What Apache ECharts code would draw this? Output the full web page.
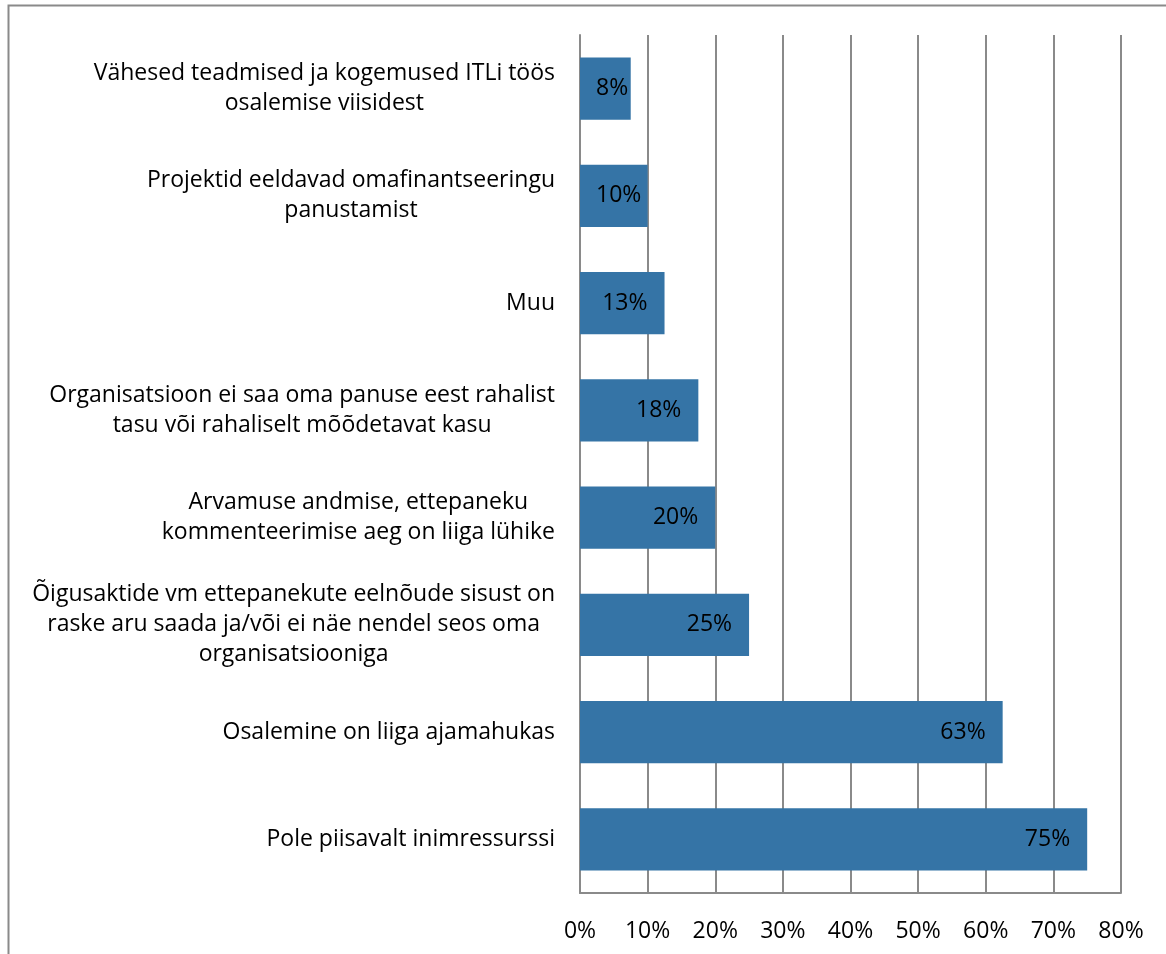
<!DOCTYPE html>
<html>
<head>
<meta charset="utf-8">
<script src="https://cdn.jsdelivr.net/npm/echarts@6/dist/echarts.min.js"></script>
<style>
html,body{margin:0;padding:0;background:#fff;}
#chart{width:1166px;height:954px;}
</style>
</head>
<body>
<div id="chart"></div>
<script>
// Categories, top to bottom
const categories = [
  "Vähesed teadmised ja kogemused ITLi töös\nosalemise viisidest",
  "Projektid eeldavad omafinantseeringu\npanustamist",
  "Muu",
  "Organisatsioon ei saa oma panuse eest rahalist\ntasu või rahaliselt mõõdetavat kasu",
  "Arvamuse andmise, ettepaneku\nkommenteerimise aeg on liiga lühike",
  "Õigusaktide vm ettepanekute eelnõude sisust on\nraske aru saada ja/või ei näe nendel seos oma\norganisatsiooniga",
  "Osalemine on liiga ajamahukas",
  "Pole piisavalt inimressurssi"
];
const values = [7.5, 10, 12.5, 17.5, 20, 25, 62.5, 75];
const xTicks = [0, 10, 20, 30, 40, 50, 60, 70, 80];

const FONT = '"Open Sans"';
const FS = 23;
const chart = echarts.init(document.getElementById('chart'), null, {renderer: 'canvas'});
chart.setOption({
  backgroundColor: '#ffffff',
  animation: false,
  graphic: [{
    type: 'rect',
    shape: {x: 8.5, y: 5.5, width: 1200, height: 1000},
    style: {fill: 'none', stroke: '#8a8a8a', lineWidth: 2},
    silent: true
  }],
  grid: {left: 580, right: 45, top: 35, bottom: 61, containLabel: false},
  xAxis: {
    type: 'value',
    min: xTicks[0],
    max: xTicks[xTicks.length - 1],
    interval: 10,
    axisLine: {show: true, lineStyle: {color: '#8a8a8a', width: 2}},
    axisTick: {show: false},
    splitLine: {show: true, lineStyle: {color: '#8a8a8a', width: 2}},
    axisLabel: {
      formatter: v => v + '%',
      color: '#000', fontFamily: FONT, fontSize: FS, margin: 27
    }
  },
  yAxis: {
    type: 'category',
    inverse: true,
    data: categories,
    axisLine: {show: true, lineStyle: {color: '#8a8a8a', width: 2}},
    axisTick: {show: false},
    axisLabel: {
      margin: 25,
      align: 'right',
      formatter: v => v.split('\n').map(l => '{c|' + l + '}').join('\n'),
      rich: {c: {align: 'center', color: '#000', fontFamily: FONT, fontSize: FS, lineHeight: 30}}
    }
  },
  series: [{
    type: 'bar',
    data: values,
    barCategoryGap: '42%',
    itemStyle: {color: '#3574a6'},
    label: {
      show: true,
      position: 'insideRight',
      distance: 17,
      formatter: p => Math.round(p.value) + '%',
      color: '#000', fontFamily: FONT, fontSize: FS
    },
    labelLayout: p => {
      const w = p.labelRect.width;
      const right = Math.max(p.rect.x + p.rect.width - 17, p.rect.x + 16 + w);
      return {
        x: right,
        y: p.rect.y + p.rect.height / 2,
        align: 'right',
        verticalAlign: 'middle'
      };
    }
  }]
});
</script>
</body>
</html>
